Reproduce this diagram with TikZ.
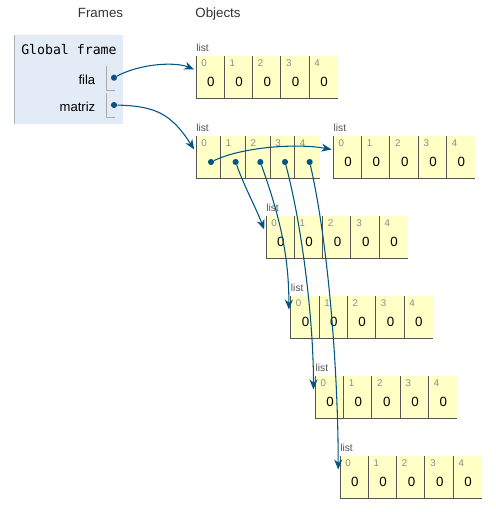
\documentclass[tikz,border=0pt]{standalone}
\usepackage{fontspec}
\setmainfont{Liberation Sans}
\setmonofont{DejaVu Sans Mono}
\usetikzlibrary{arrows.meta,calc}
\definecolor{framebg}{HTML}{E2EBF6}
\definecolor{frameedge}{HTML}{A6B3B6}
\definecolor{slotline}{HTML}{AAAAAA}
\definecolor{cellbg}{HTML}{FFFFC6}
\definecolor{celledge}{HTML}{555555}
\definecolor{idxgray}{HTML}{8A8A8A}
\definecolor{lblgray}{HTML}{555555}
\definecolor{hdrgray}{HTML}{333333}
\definecolor{ptrblue}{HTML}{005583}
\tikzset{
  hdr/.style={inner sep=0pt, anchor=base, text=hdrgray, font=\fontsize{10}{12}\selectfont},
  vartext/.style={inner sep=0pt, anchor=base east, font=\fontsize{9.8}{12}\selectfont},
  monotext/.style={inner sep=0pt, anchor=base west, font=\ttfamily\fontsize{9.9}{12}\selectfont},
  framebox/.style={fill=framebg, inner sep=0pt, minimum width=81.5pt, minimum height=66.2pt},
  slotstroke/.style={draw=slotline, line width=0.75pt},
  listlbl/.style={inner sep=0pt, anchor=base west, text=lblgray, font=\fontsize{7.7}{9}\selectfont},
  cellbox/.style={fill=cellbg, inner sep=0pt, minimum height=31.5pt},
  cellstroke/.style={draw=celledge, line width=0.75pt},
  idxtext/.style={inner sep=0pt, anchor=base west, text=idxgray, font=\fontsize{7.3}{9}\selectfont},
  valtext/.style={inner sep=0pt, anchor=base, font=\fontsize{10}{12}\selectfont},
  ptrdot/.style={circle, fill=ptrblue, inner sep=0pt, minimum size=4.6pt},
  ptr/.style={draw=ptrblue, line width=0.8pt, -{Stealth[length=7.5pt,width=6pt,inset=2.4pt]}}
}
% name, left, top, cell width (px), values (1 = zeros)
\newcommand{\mkpylist}[5]{%
  \node[listlbl] (#1lbl) at (#2,#3-5) {list};
  \foreach \i in {0,...,4} {
    \node[cellbox, minimum width={#4*0.75pt}, anchor=north west] (#1c\i) at ({#2+\i*#4},#3) {};
    \draw[cellstroke] (#1c\i.north west) -- (#1c\i.south west) -- (#1c\i.south east);
    \node[idxtext] (#1i\i) at ($(#1c\i.north west)+(5,10.7)$) {\i};
    \ifnum#5=1 \node[valtext] (#1v\i) at ($(#1c\i.north west)+(14.8,30.7)$) {0};\fi
  }
  \coordinate (#1in) at ($(#1c0.north west)+(-1.8,13.5)$);
}
\begin{document}
\begin{tikzpicture}[x=0.75pt,y=-0.75pt]
\useasboundingbox (0,0) rectangle (496,512);
% headers
\node[hdr] (hframes) at (100.5,17.3) {Frames};
\node[hdr] (hobjects) at (218,17.3) {Objects};
% global frame
\node[framebox, anchor=north west] (gframe) at (14,35) {};
\draw[draw=frameedge, line width=0.75pt] (gframe.north west) -- (gframe.south west);
\node[monotext] (gtitle) at (21,54) {Global frame};
\node[vartext] (filaname) at (95.5,84) {fila};
\node[vartext] (matrizname) at (95.5,111) {matriz};
\draw[slotstroke] (106.7,66) -- (106.7,90) -- (115,90);
\draw[slotstroke] (106.7,93.3) -- (106.7,117.3) -- (115,117.3);
\node[ptrdot] (filadot) at (114,77.7) {};
\node[ptrdot] (matrizdot) at (114,105) {};
% lists
\mkpylist{fl}{196}{56}{28.3}{1}
\mkpylist{mz}{196}{136}{24.67}{0}
\mkpylist{la}{333.3}{136}{28.33}{1}
\mkpylist{lb}{266}{216}{28.33}{1}
\mkpylist{lc}{290.7}{296}{28.33}{1}
\mkpylist{ld}{315.3}{376}{28.33}{1}
\mkpylist{le}{340}{456}{28.33}{1}
\foreach \i in {0,...,4} {
  \node[ptrdot] (mzd\i) at ($(mzc\i.north west)+(15,26)$) {};
}
% pointers
\draw[ptr] (filadot) .. controls +(26,-14) and +(-19,-8) .. (flin);
\draw[ptr] (matrizdot) .. controls +(41,1) and +(-23,-36) .. (mzin);
\draw[ptr] (mzd0) .. controls +(34,-16) and +(-31.5,-6) .. (lain);
\draw[ptr] (mzd1) .. controls +(8,23) and +(-8,-21) .. (lbin);
\draw[ptr] (mzd2) .. controls +(17,48) and +(0,-59) .. (lcin);
\draw[ptr] (mzd3) .. controls +(17,63) and +(0,-69) .. (ldin);
\draw[ptr] (mzd4) .. controls +(20,88) and +(0,-89) .. (lein);
\end{tikzpicture}
\end{document}
